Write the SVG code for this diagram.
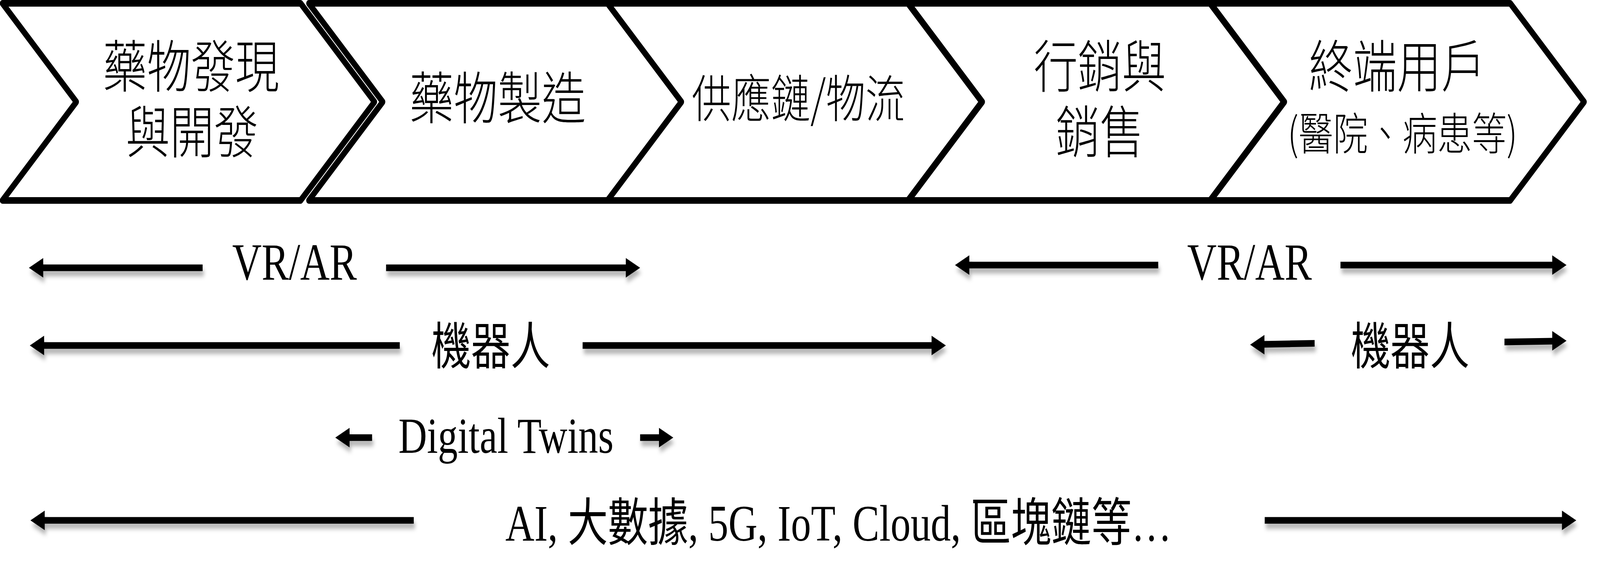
<svg xmlns="http://www.w3.org/2000/svg" width="5259" height="1496" viewBox="0 0 5259 1496" preserveAspectRatio="none" style="width:100vw;height:100vh;display:block">
<style>
.chev{fill:#fff;stroke:#000;stroke-width:17;stroke-linejoin:round}
.ct{font-family:"Noto Sans CJK TC","Noto Sans CJK SC",sans-serif;font-weight:300;fill:#000;text-anchor:middle}
.lt{font-family:"Liberation Serif","Noto Sans CJK TC",serif;fill:#000;text-anchor:middle}
.arr{fill:#000}
</style>
<defs>
<filter id="sh" x="-5%" y="-100%" width="110%" height="300%">
<feDropShadow dx="4" dy="13" stdDeviation="6" flood-color="#000" flood-opacity="0.3"/>
</filter>
</defs>
<rect width="5259" height="1496" fill="#fff"/>
<g id="node1">
<polygon class="chev" points="8,8.5 988,8.5 1231,261 988,513.5 8,513.5 251,261"/>
<text class="ct" font-size="145"><tspan x="628" y="224">藥物發現</tspan><tspan x="631" y="392">與開發</tspan></text>
</g>
<g id="node2">
<polygon class="chev" points="1015,8.5 1997,8.5 2240,261 1997,513.5 1015,513.5 1258,261"/>
<text class="ct" x="1636" y="305" font-size="145">藥物製造</text>
</g>
<g id="node3">
<polygon class="chev" points="1997,8.5 2984,8.5 3227,261 2984,513.5 1997,513.5 2240,261"/>
<text class="ct" x="2624" y="300" font-size="130">供應鏈/物流</text>
</g>
<g id="node4">
<polygon class="chev" points="2986,8.5 3977,8.5 4220,261 3977,513.5 2986,513.5 3229,261"/>
<text class="ct" font-size="145"><tspan x="3615" y="224">行銷與</tspan><tspan x="3615" y="392">銷售</tspan></text>
</g>
<g id="node5">
<polygon class="chev" points="3979,8.5 4964,8.5 5207,261 4964,513.5 3979,513.5 4222,261"/>
<text class="ct"><tspan x="4592" y="224" font-size="145">終端用戶</tspan><tspan x="4610" y="384" font-size="114">(醫院、病患等)</tspan></text>
</g>
<g id="connectors" filter="url(#sh)">
<polygon class="arr" points="95,686 142,661 142,677.5 666,677.5 666,694.5 142,694.5 142,711"/>
<polygon class="arr" points="2104,686 2057,661 2057,677.5 1269,677.5 1269,694.5 2057,694.5 2057,711"/>
<polygon class="arr" points="3139,679 3186,654 3186,670.5 3807,670.5 3807,687.5 3186,687.5 3186,704"/>
<polygon class="arr" points="5149,679 5102,654 5102,670.5 4406,670.5 4406,687.5 5102,687.5 5102,704"/>
<polygon class="arr" points="98,885 145,860 145,876.5 1314,876.5 1314,893.5 145,893.5 145,910"/>
<polygon class="arr" points="3109,885 3062,860 3062,876.5 1915,876.5 1915,893.5 3062,893.5 3062,910"/>
<polygon class="arr" points="4109,883 4156,858 4156,873.5 4321,871 4321,888 4156,890.5 4156,908"/>
<polygon class="arr" points="5149,873 5102,848 5102,865.5 4945,867.5 4945,884.5 5102,882.5 5102,898"/>
<polygon class="arr" points="1102,1121 1149,1096 1149,1112.5 1223,1112.5 1223,1129.5 1149,1129.5 1149,1146"/>
<polygon class="arr" points="2213,1121 2166,1096 2166,1112.5 2104,1112.5 2104,1129.5 2166,1129.5 2166,1146"/>
<polygon class="arr" points="100,1333 147,1308 147,1324.5 1360,1324.5 1360,1341.5 147,1341.5 147,1358"/>
<polygon class="arr" points="5181,1333 5134,1308 5134,1324.5 4157,1324.5 4157,1341.5 5134,1341.5 5134,1358"/>
</g>
<g id="labels">
<text class="lt" x="968" y="716" font-size="134">VR/AR</text>
<text class="lt" x="4107" y="716" font-size="134">VR/AR</text>
<text class="lt" x="1613" y="933" font-size="130">機器人</text>
<text class="lt" x="4635" y="933" font-size="130">機器人</text>
<text class="lt" x="1663" y="1160" font-size="130">Digital Twins</text>
<text class="lt" x="2756" y="1385" font-size="132">AI, 大數據, 5G, IoT, Cloud, 區塊鏈等…</text>
</g>
</svg>
